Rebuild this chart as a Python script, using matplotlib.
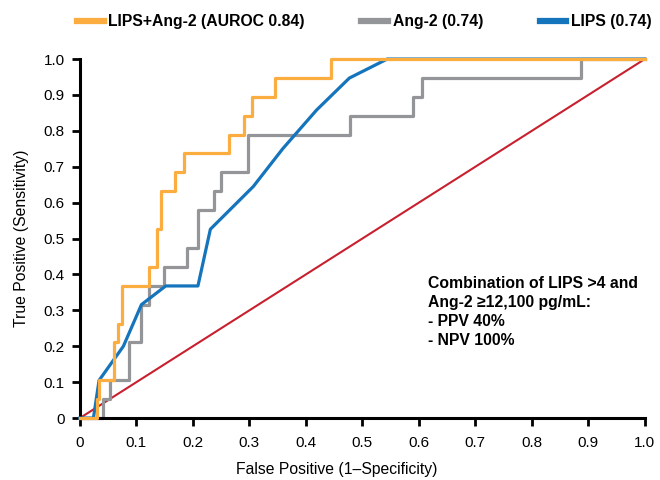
#
#   ROC curves for LIPS, Ang-2 and the combined LIPS+Ang-2 model
#

import matplotlib
matplotlib.use('Agg')
import matplotlib.pyplot as plt

plt.rcParams['font.family'] = ['Liberation Sans', 'DejaVu Sans']

#
#   Curve data
#

combo_fpr = [0, 0.030, 0.034, 0.061, 0.068, 0.075, 0.122, 0.136, 0.143,
             0.169, 0.184, 0.264, 0.290, 0.304, 0.345, 0.445, 1.0]
combo_tpr = [0, 0.053, 0.105, 0.211, 0.263, 0.368, 0.421, 0.526, 0.632,
             0.684, 0.737, 0.789, 0.842, 0.895, 0.947, 1.0, 1.0]

ang2_fpr = [0, 0.041, 0.054, 0.087, 0.109, 0.122, 0.149, 0.189, 0.209,
            0.237, 0.249, 0.297, 0.478, 0.589, 0.606, 0.887, 1.0]
ang2_tpr = [0, 0.053, 0.105, 0.211, 0.316, 0.368, 0.421, 0.474, 0.579,
            0.632, 0.684, 0.789, 0.842, 0.895, 0.947, 1.0, 1.0]

lips_fpr = [0, 0.024, 0.034, 0.077, 0.109, 0.152, 0.209, 0.231, 0.307,
            0.359, 0.419, 0.477, 0.544, 1.0]
lips_tpr = [0, 0, 0.105, 0.200, 0.316, 0.368, 0.368, 0.526, 0.645,
            0.750, 0.858, 0.947, 1.0, 1.0]

series_labels = ['LIPS+Ang-2 (AUROC 0.84)', 'Ang-2 (0.74)', 'LIPS (0.74)']

ticks = [0, 0.1, 0.2, 0.3, 0.4, 0.5, 0.6, 0.7, 0.8, 0.9, 1.0]
tick_labels = ['0', '0.1', '0.2', '0.3', '0.4', '0.5', '0.6', '0.7',
               '0.8', '0.9', '1.0']

note = ('Combination of LIPS >4 and\n'
        'Ang-2 \u226512,100 pg/mL:\n'
        '- PPV 40%\n'
        '- NPV 100%')

ORANGE = '#FBAD3F'
GREY = '#939598'
BLUE = '#1474BC'
RED = '#C8202F'

#
#   Plot
#

f = plt.figure(figsize=(6.6, 4.8), dpi=100)
ax = f.add_axes([0.121, 0.129, 0.856, 0.748])

ax.plot([0, 1], [0, 1], color=RED, linewidth=1.5, zorder=1, clip_on=False)

l_grey, = ax.plot(ang2_fpr, ang2_tpr, drawstyle='steps-post', color=GREY,
                  linewidth=2.3, zorder=2, clip_on=False)
l_blue, = ax.plot(lips_fpr, lips_tpr, color=BLUE, linewidth=2.3,
                  zorder=3, clip_on=False)
l_orange, = ax.plot(combo_fpr, combo_tpr, drawstyle='steps-post',
                    color=ORANGE, linewidth=2.3, zorder=4, clip_on=False)

ax.set_xlim(0, 1)
ax.set_ylim(0, 1)

ax.set_xticks(ticks)
ax.set_xticklabels(tick_labels)
ax.set_yticks(ticks)
ax.set_yticklabels(tick_labels)

for side in ['top', 'right']:
    ax.spines[side].set_visible(False)
for side in ['left', 'bottom']:
    ax.spines[side].set_linewidth(2.2)
    ax.spines[side].set_color('black')

ax.tick_params(axis='both', direction='out', length=6, width=2,
               labelsize=11, colors='black')
ax.tick_params(axis='x', pad=7)
ax.tick_params(axis='y', pad=5)

# Axis labels sit a bit off-centre in the original

ax.set_xlabel('False Positive (1\u2013Specificity)', fontsize=11.3)
ax.xaxis.set_label_coords(0.455, -0.142)
ax.xaxis.label.set_va('center')
ax.set_ylabel('True Positive (Sensitivity)', fontsize=11.3)
ax.yaxis.set_label_coords(-0.103, 0.5)
ax.yaxis.label.set_va('center')

ax.text(0.616, 0.397, note, fontsize=11.3, fontweight='bold',
        ha='left', va='top', linespacing=1.35)

# Legend across the top

leg = f.legend([l_orange, l_grey, l_blue], series_labels,
               loc='center', bbox_to_anchor=(0.552, 0.955), ncol=3,
               frameon=False, handlelength=1.7, handletextpad=0.3,
               columnspacing=3.6, prop={'weight': 'bold', 'size': 11.3})
for h in leg.legend_handles:
    h.set_linewidth(4.5)

f.savefig('out.png', dpi=100)
